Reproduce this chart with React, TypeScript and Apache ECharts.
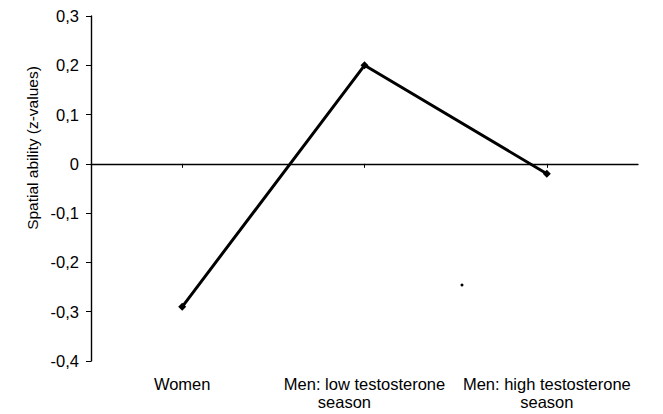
import React, { useEffect, useRef } from "react";
import * as echarts from "echarts";

const categories = [
  "Women",
  "Men: low testosterone\nseason",
  "Men: high testosterone\nseason",
];
const values = [-0.29, 0.2, -0.02];
const yMin = -0.4;
const yMax = 0.3;
const yStep = 0.1;
const yTitle = "Spatial ability (z-values)";

const fmt = (v: number) => {
  const r = Math.round(v * 10) / 10;
  if (r === 0) return "0";
  return r.toFixed(1).replace(".", ",");
};

export default function App() {
  const ref = useRef<HTMLDivElement>(null);
  useEffect(() => {
    if (!ref.current) return;
    const chart = echarts.init(ref.current, null, { renderer: "svg" });
    const font = "'Liberation Sans', Arial, sans-serif";
    chart.setOption({
      animation: false,
      backgroundColor: "#ffffff",
      grid: { left: 91, right: 25, top: 16, bottom: 53 },
      xAxis: [
        {
          type: "category",
          data: categories,
          position: "bottom",
          axisLine: { show: false, onZero: false },
          axisTick: { show: false },
          axisLabel: {
            color: "#000",
            fontFamily: font,
            fontSize: 16.5,
            lineHeight: 18,
            margin: 14,
            interval: 0,
            formatter: (v: string, i: number) => {
              const parts = v.split("\n");
              if (parts.length < 2) return `{a|${v}}`;
              return i === 1
                ? `{a|${parts[0]}}\n{b|${parts[1]}}`
                : `{a|${parts[0]}}\n{a|${parts[1]}}`;
            },
            rich: {
              a: { fontFamily: font, fontSize: 16.5, lineHeight: 18, color: "#000" },
              b: { fontFamily: font, fontSize: 16.5, lineHeight: 18, color: "#000", align: "left", padding: [0, 0, 0, 34] },
            },
          },
        },
        {
          type: "category",
          data: categories,
          position: "bottom",
          axisLine: { show: true, onZero: true, lineStyle: { color: "#000", width: 1.4 } },
          axisTick: { show: true, alignWithLabel: true, length: 4, lineStyle: { color: "#000" } },
          axisLabel: { show: false },
        },
      ],
      yAxis: {
        type: "value",
        min: yMin,
        max: yMax,
        interval: yStep,
        splitLine: { show: false },
        axisLine: { show: true, lineStyle: { color: "#000", width: 1.4 } },
        axisTick: { show: true, length: 5, lineStyle: { color: "#000" } },
        axisLabel: {
          color: "#000",
          fontFamily: font,
          fontSize: 16.5,
          margin: 12,
          formatter: (v: number) => fmt(v),
        },
      },
      graphic: [
        {
          type: "text",
          x: 32,
          y: 148,
          rotation: Math.PI / 2,
          style: {
            text: yTitle,
            fill: "#000",
            font: `15.5px ${font}`,
            textAlign: "center",
            textVerticalAlign: "middle",
          },
        },
        {
          type: "circle",
          shape: { cx: 462, cy: 285, r: 1.5 },
          style: { fill: "#000" },
        },
      ],
      series: [
        {
          type: "line",
          xAxisIndex: 0,
          data: values,
          symbol: "diamond",
          symbolSize: 8,
          lineStyle: { color: "#000", width: 3 },
          itemStyle: { color: "#000" },
        },
      ],
    });
    return () => chart.dispose();
  }, []);
  return <div ref={ref} style={{ width: 663, height: 414, position: "absolute", left: 0, top: 0 }} />;
}
